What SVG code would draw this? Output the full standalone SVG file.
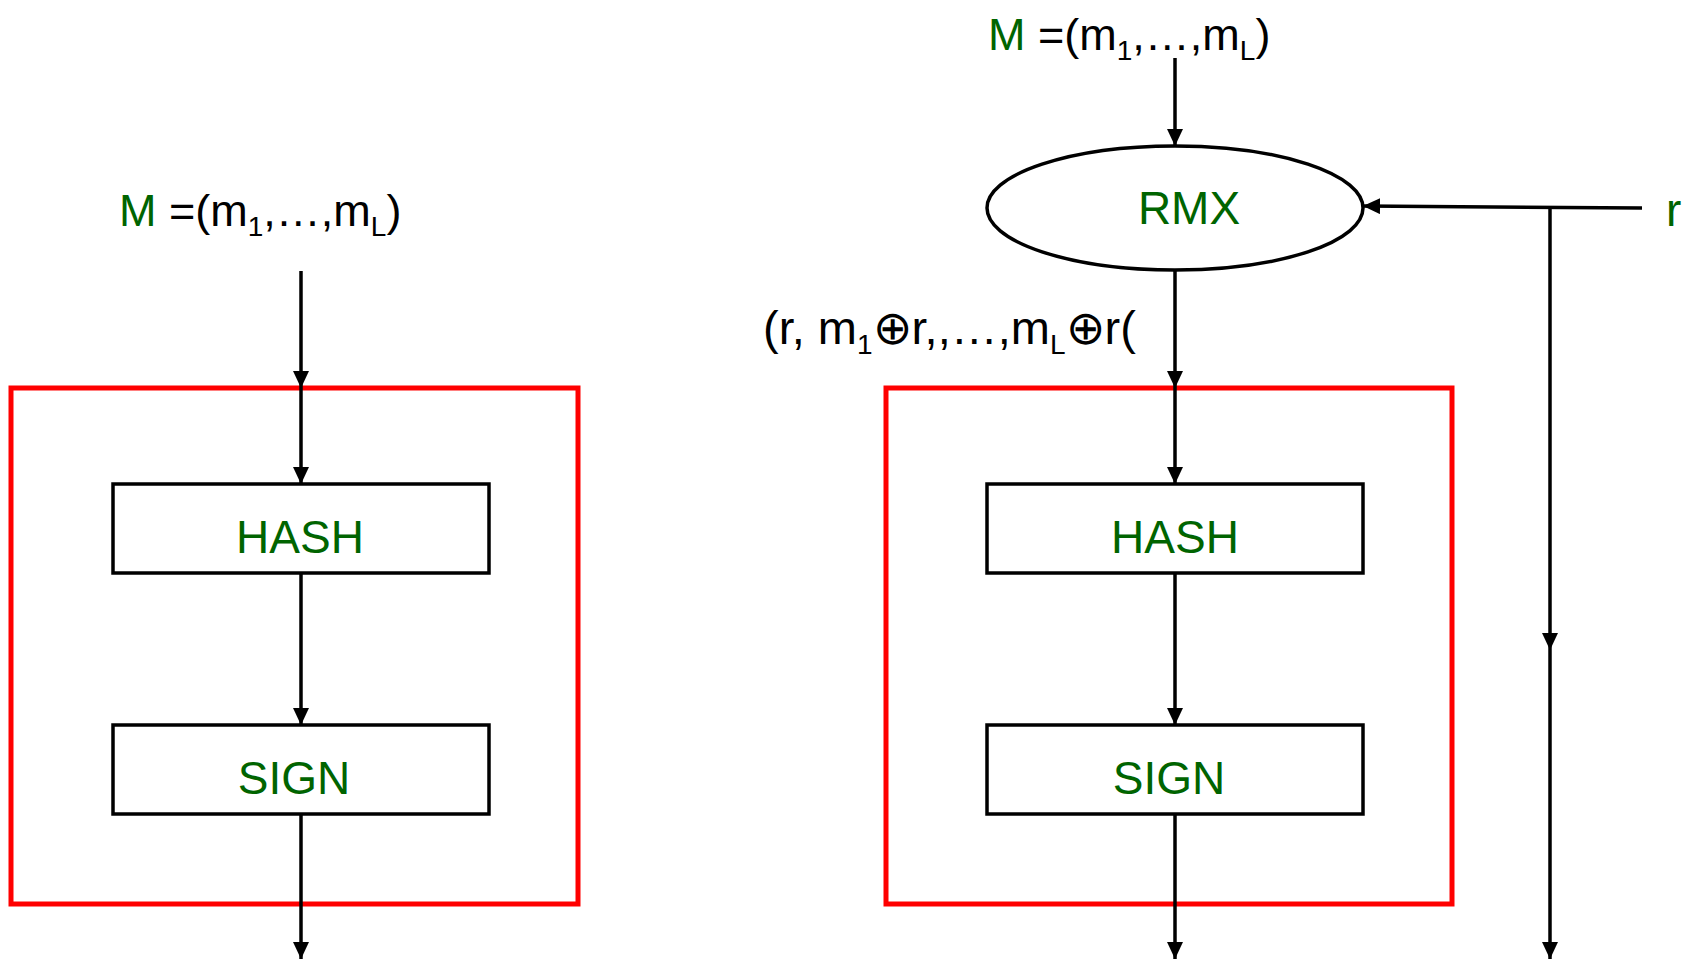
<svg xmlns="http://www.w3.org/2000/svg" width="1702" height="959" viewBox="0 0 1702 959">
<defs>
<style>
.t{font-family:"Comic Sans MS","Liberation Sans",sans-serif;font-size:46px;fill:#000}
.g{fill:#006400}
.box{fill:#fff;stroke:#000;stroke-width:3.5}
.red{fill:none;stroke:#ff0000;stroke-width:5}
.ln{fill:none;stroke:#000;stroke-width:3.5;marker-end:url(#ah)}
.sub{font-size:28px}
</style>
<marker id="ah" markerUnits="userSpaceOnUse" markerWidth="18" markerHeight="16" refX="17" refY="8" orient="auto"><path d="M0,0 L17,8 L0,16 z" fill="#000"/></marker>
</defs>
<rect width="1702" height="959" fill="#fff"/>
<g id="left-container"><rect class="red" x="11" y="388" width="567" height="516"/></g>
<g id="right-container"><rect class="red" x="886" y="388" width="566" height="516"/></g>
<g id="left-hash"><rect class="box" x="113" y="484" width="376" height="89"/><text class="t g" x="300" y="553" text-anchor="middle">HASH</text></g>
<g id="left-sign"><rect class="box" x="113" y="725" width="376" height="89"/><text class="t g" x="294" y="794" text-anchor="middle">SIGN</text></g>
<g id="right-hash"><rect class="box" x="987" y="484" width="376" height="89"/><text class="t g" x="1175" y="553" text-anchor="middle">HASH</text></g>
<g id="right-sign"><rect class="box" x="987" y="725" width="376" height="89"/><text class="t g" x="1169" y="794" text-anchor="middle">SIGN</text></g>
<g id="rmx"><ellipse class="box" cx="1175" cy="208" rx="188" ry="62"/><text class="t g" x="1189" y="224" text-anchor="middle">RMX</text></g>
<g id="left-input"><text class="t" x="119" y="226" style="font-size:45px"><tspan class="g">M</tspan> =(m<tspan class="sub" dy="10">1</tspan><tspan dy="-10">,…,m</tspan><tspan class="sub" dy="10">L</tspan><tspan dy="-10">)</tspan></text></g>
<g id="right-input"><text class="t" x="988" y="50" style="font-size:45px"><tspan class="g">M</tspan> =(m<tspan class="sub" dy="10">1</tspan><tspan dy="-10">,…,m</tspan><tspan class="sub" dy="10">L</tspan><tspan dy="-10">)</tspan></text></g>
<g id="r-input"><text class="t g" x="1666" y="226">r</text></g>
<g id="rmx-output-label"><text class="t" x="763" y="344" style="font-size:47px">(r, m<tspan class="sub" dy="10">1</tspan><tspan dy="-10">⊕r,,…,m</tspan><tspan class="sub" dy="10">L</tspan><tspan dy="-10">⊕r(</tspan></text></g>
<g id="connectors">
<line class="ln" x1="301" y1="271" x2="301" y2="388"/>
<line class="ln" x1="301" y1="388" x2="301" y2="484"/>
<line class="ln" x1="301" y1="573" x2="301" y2="725"/>
<line class="ln" x1="301" y1="814" x2="301" y2="959"/>
<line class="ln" x1="1175" y1="58" x2="1175" y2="146"/>
<line class="ln" x1="1175" y1="270" x2="1175" y2="388"/>
<line class="ln" x1="1175" y1="388" x2="1175" y2="484"/>
<line class="ln" x1="1175" y1="573" x2="1175" y2="725"/>
<line class="ln" x1="1175" y1="814" x2="1175" y2="959"/>
<line class="ln" x1="1642" y1="208" x2="1363" y2="206"/>
<line class="ln" x1="1550" y1="207" x2="1550" y2="650"/>
<line class="ln" x1="1550" y1="650" x2="1550" y2="959"/>
</g>
</svg>
